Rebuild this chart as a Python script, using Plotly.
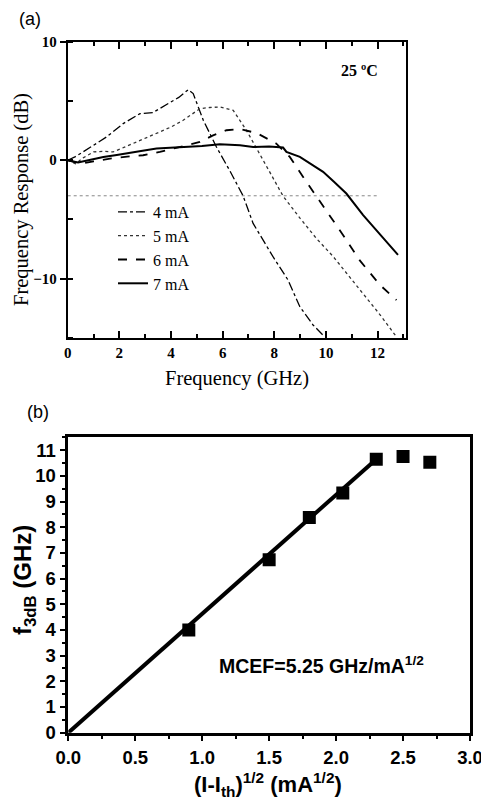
import plotly.graph_objects as go

# ---------------- Panel (a): frequency response ----------------
f_4mA = [0, 0.3, 1.0, 1.5, 2.15, 2.8, 3.3, 3.8, 4.3, 4.67, 4.86, 5.25, 5.76, 6.28, 6.79, 7.18, 7.57, 7.95, 8.53, 8.99, 9.5, 9.95]
r_4mA = [0, 0.3, 1.26, 1.96, 3.09, 3.93, 4.02, 4.63, 5.3, 5.96, 5.62, 3.37, 1.12, -0.9, -3.0, -5.33, -6.74, -8.14, -10.1, -12.36, -13.9, -14.9]

f_5mA = [0, 0.3, 0.6, 1.0, 1.4, 1.76, 2.2, 2.67, 3.1, 3.57, 4.0, 4.47, 4.86, 5.12, 5.5, 5.89, 6.41, 6.92, 7.57, 8.34, 9.0, 9.63, 10.27, 11.31, 12.08, 12.73]
r_5mA = [0, -0.3, 0.2, 0.7, 0.75, 0.7, 1.1, 1.54, 1.95, 2.39, 2.8, 3.37, 3.93, 4.35, 4.45, 4.49, 4.21, 2.53, 0, -3.03, -4.9, -6.6, -8.1, -10.95, -13.0, -14.9]

f_6mA = [0, 0.5, 1.0, 1.64, 2.3, 2.92, 3.57, 4.34, 5.12, 5.63, 6.15, 6.67, 7.31, 8.08, 8.6, 9.11, 9.63, 10.66, 11.31, 12.08, 12.73]
r_6mA = [0, -0.3, -0.1, 0.14, 0.3, 0.42, 0.7, 1.12, 1.54, 2.1, 2.53, 2.62, 2.3, 1.4, 0.28, -1.4, -3.03, -6.3, -8.45, -10.5, -11.8]

f_7mA = [0, 0.4, 0.8, 1.38, 1.9, 2.28, 2.9, 3.44, 4.0, 4.6, 5.2, 5.89, 6.67, 7.18, 7.8, 8.34, 8.47, 8.99, 9.4, 9.89, 10.3, 10.79, 11.44, 12.08, 12.5, 12.79]
r_7mA = [0, -0.2, 0.0, 0.28, 0.45, 0.56, 0.8, 0.98, 1.05, 1.12, 1.2, 1.35, 1.26, 1.12, 1.15, 1.07, 0.7, 0.28, -0.3, -0.98, -1.8, -2.81, -4.63, -6.2, -7.2, -7.98]

ref3dB_x = [0, 12]
ref3dB_y = [-3, -3]

# ---------------- Panel (b): f3dB vs sqrt(I - Ith) ----------------
sqrt_current = [0.9, 1.5, 1.8, 2.05, 2.3, 2.5, 2.7]
f3dB = [4.0, 6.73, 8.38, 9.33, 10.65, 10.75, 10.53]
fit_x = [0, 2.3]
fit_y = [0, 10.65]

# page body adds an 8 px margin; size the figure to fill the rest of the window
OFF = 8
W, H = 489 - OFF, 801 - OFF
def px_x(p):
    return (p - OFF) / W
def px_y(p):
    return 1 - (p - OFF) / H

serif = "Liberation Serif, Times New Roman, serif"
sans = "Liberation Sans, Arial, sans-serif"

fig = go.Figure()

fig.add_trace(go.Scatter(x=ref3dB_x, y=ref3dB_y, mode="lines", showlegend=False,
                         line=dict(color="#888888", width=1, dash="dot"),
                         xaxis="x", yaxis="y", hoverinfo="skip"))
fig.add_trace(go.Scatter(x=f_4mA, y=r_4mA, mode="lines", name="4 mA",
                         line=dict(color="black", width=1.3, dash="dashdot"), xaxis="x", yaxis="y"))
fig.add_trace(go.Scatter(x=f_5mA, y=r_5mA, mode="lines", name="5 mA",
                         line=dict(color="#333333", width=1.3, dash="dot"), xaxis="x", yaxis="y"))
fig.add_trace(go.Scatter(x=f_6mA, y=r_6mA, mode="lines", name="6 mA",
                         line=dict(color="black", width=1.8, dash="dash"), xaxis="x", yaxis="y"))
fig.add_trace(go.Scatter(x=f_7mA, y=r_7mA, mode="lines", name="7 mA",
                         line=dict(color="black", width=2), xaxis="x", yaxis="y"))

fig.add_trace(go.Scatter(x=fit_x, y=fit_y, mode="lines", showlegend=False,
                         line=dict(color="black", width=4), xaxis="x2", yaxis="y2"))
fig.add_trace(go.Scatter(x=sqrt_current, y=f3dB, mode="markers", showlegend=False,
                         marker=dict(symbol="square", size=13, color="black"),
                         xaxis="x2", yaxis="y2"))

top_tick_font = dict(family=serif, size=15, color="black", weight="bold")
bot_tick_font = dict(family=sans, size=18.5, color="black", weight="bold")

def ann(text, x, y, font, **kw):
    d = dict(text=text, x=x, y=y, xref="paper", yref="paper", xanchor="center",
             yanchor="middle", showarrow=False, font=font)
    d.update(kw)
    return d

fig.update_layout(
    width=W, height=H,
    margin=dict(l=0, r=0, t=0, b=0, pad=0, autoexpand=False),
    paper_bgcolor="white", plot_bgcolor="white",
    showlegend=True,
    legend=dict(x=px_x(113), y=px_y(195), xanchor="left", yanchor="top",
                bgcolor="rgba(0,0,0,0)", borderwidth=0,
                font=dict(family=serif, size=16, color="black"),
                tracegroupgap=0),
    xaxis=dict(domain=[px_x(67.7), px_x(406)], range=[0, 13.1], anchor="y",
               showgrid=False, zeroline=False, automargin=False,
               showline=True, linecolor="black", linewidth=2, mirror="ticks",
               ticks="inside", ticklen=7, tickwidth=2, tickcolor="black",
               tickvals=[0, 2, 4, 6, 8, 10, 12],
               minor=dict(ticks="inside", ticklen=4, tickwidth=1.5, tickcolor="black", dtick=1, tick0=0),
               tickfont=top_tick_font),
    yaxis=dict(domain=[px_y(338), px_y(41.7)], range=[-15, 10], anchor="x",
               showgrid=False, zeroline=False, automargin=False,
               showline=True, linecolor="black", linewidth=2, mirror=True,
               ticks="outside", ticklen=6, tickwidth=2, tickcolor="black",
               tickvals=[-10, 0, 10],
               minor=dict(ticks="inside", ticklen=5, tickwidth=1.5, tickcolor="black", dtick=5, tick0=0),
               tickfont=top_tick_font),
    xaxis2=dict(domain=[px_x(68.3), px_x(470)], range=[0, 3], anchor="y2",
                showgrid=False, zeroline=False, automargin=False,
                showline=True, linecolor="black", linewidth=2.5, mirror=True,
                ticks="outside", ticklen=6, tickwidth=2, tickcolor="black",
                dtick=0.5, tick0=0, tickformat=".1f",
                minor=dict(ticks="outside", ticklen=4, tickwidth=1.5, tickcolor="black", dtick=0.25, tick0=0),
                tickfont=bot_tick_font),
    yaxis2=dict(domain=[px_y(732.7), px_y(437.3)], range=[0, 11.5], anchor="x2",
                showgrid=False, zeroline=False, automargin=False,
                showline=True, linecolor="black", linewidth=2.5, mirror=True,
                ticks="outside", ticklen=6, tickwidth=2, tickcolor="black",
                dtick=1, tick0=0,
                minor=dict(ticks="outside", ticklen=4, tickwidth=1.5, tickcolor="black", dtick=0.5, tick0=0),
                tickfont=bot_tick_font),
    annotations=[
        ann("(a)", px_x(30), px_y(19), dict(family=sans, size=18, color="black")),
        ann("(b)", px_x(38), px_y(412), dict(family=sans, size=18, color="black")),
        dict(text="25 ºC", x=11.3, y=7.6, xref="x", yref="y", xanchor="center", yanchor="middle",
             showarrow=False, font=dict(family=serif, size=16, color="black", weight="bold")),
        ann("Frequency Response (dB)", px_x(22), px_y(200), dict(family=serif, size=20.5, color="black"),
            textangle=-90),
        ann("Frequency (GHz)", px_x(237), px_y(378), dict(family=serif, size=20.5, color="black")),
        dict(text="MCEF=5.25 GHz/mA<sup>1/2</sup>", x=1.89, y=2.65, xref="x2", yref="y2",
             xanchor="center", yanchor="middle",
             showarrow=False, font=dict(family=sans, size=19.5, color="black", weight="bold")),
        ann("f<sub>3dB</sub> (GHz)", px_x(24), px_y(580), dict(family=sans, size=24, color="black", weight="bold"),
            textangle=-90),
        ann("(I-I<sub>th</sub>)<sup>1/2</sup> (mA<sup>1/2</sup>)", px_x(268), px_y(784),
            dict(family=sans, size=22, color="black", weight="bold")),
    ],
)

fig.write_html("out.html")
